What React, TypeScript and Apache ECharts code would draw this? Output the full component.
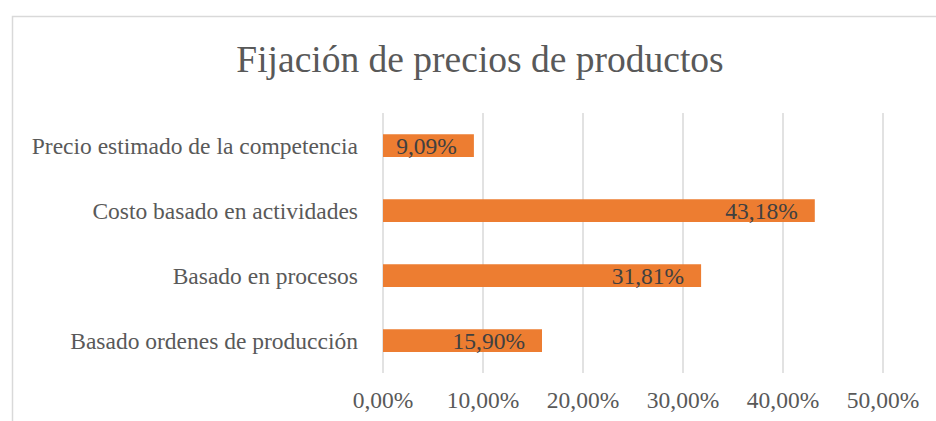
import React, { useEffect, useRef } from "react";
import * as echarts from "echarts";

const titleText = "Fijación de precios de productos";
const categories = [
  "Precio estimado de la competencia",
  "Costo basado en actividades",
  "Basado en procesos",
  "Basado ordenes de producción",
];
const values = [9.09, 43.18, 31.81, 15.9];
const axisMax = 50;
const axisInterval = 10;

const fmt = (v: number) => v.toFixed(2).replace(".", ",") + "%";

export default function App() {
  const ref = useRef<HTMLDivElement>(null);
  useEffect(() => {
    if (!ref.current) return;
    const chart = echarts.init(ref.current, undefined, { renderer: "svg" });
    const font = "'Liberation Serif', 'Times New Roman', serif";
    chart.setOption({
      animation: false,
      backgroundColor: "#ffffff",
      title: {
        text: titleText,
        left: 475,
        top: 35,
        textAlign: "center",
        textStyle: {
          fontFamily: font,
          fontSize: 37.5,
          fontWeight: "normal",
          color: "#595959",
        },
      },
      graphic: [
        {
          type: "rect",
          shape: { x: 12.5, y: 16.5, width: 1000, height: 500 },
          style: { fill: "none", stroke: "#d9d9d9", lineWidth: 1.5 },
          silent: true,
        },
      ],
      grid: { left: 383, right: 53, top: 113, bottom: 48, containLabel: false },
      xAxis: {
        type: "value",
        min: 0,
        max: axisMax,
        interval: axisInterval,
        axisLine: { show: false },
        axisTick: { show: false },
        splitLine: { show: true, lineStyle: { color: "#d9d9d9", width: 1.5 } },
        axisLabel: {
          formatter: (v: number) => fmt(v),
          fontFamily: font,
          fontSize: 23.5,
          color: "#595959",
          margin: 15,
        },
      },
      yAxis: {
        type: "category",
        data: categories,
        inverse: true,
        axisLine: { show: false },
        axisTick: { show: false },
        splitLine: { show: false },
        axisLabel: {
          fontFamily: font,
          fontSize: 23.5,
          color: "#595959",
          margin: 25,
        },
      },
      series: [
        {
          type: "bar",
          data: values,
          barWidth: "35%",
          itemStyle: { color: "#ED7D31" },
          label: {
            show: true,
            position: "insideRight",
            distance: 17,
            formatter: (p: any) => fmt(p.value),
            fontFamily: font,
            fontSize: 23.5,
            color: "#404040",
          },
        },
      ],
    });
    return () => chart.dispose();
  }, []);
  return (
    <div
      ref={ref}
      style={{ position: "fixed", left: 0, top: 0, width: 936, height: 421 }}
    />
  );
}
